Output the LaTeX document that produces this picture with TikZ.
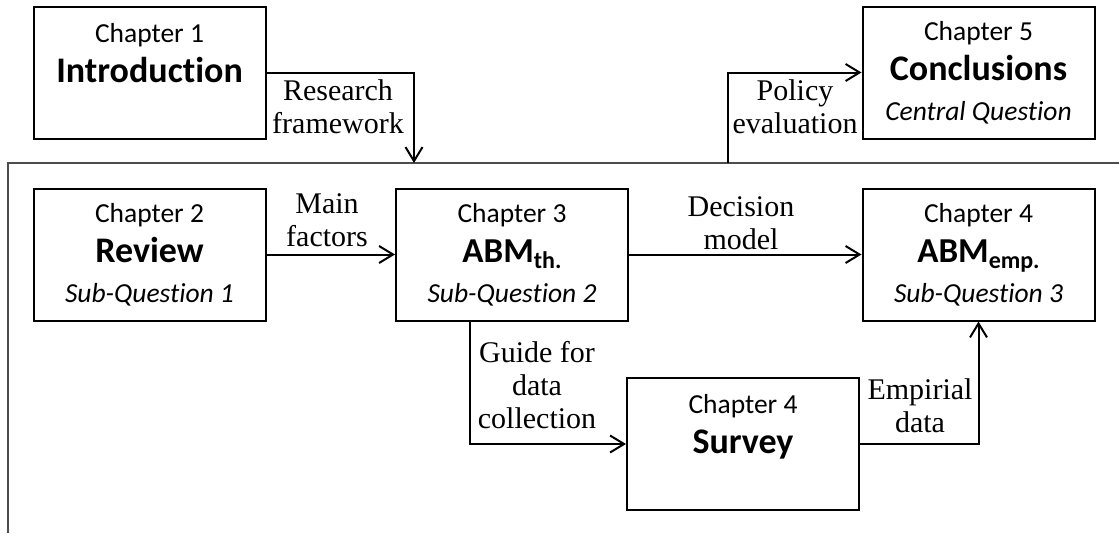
\documentclass[tikz,border=0pt]{standalone}
\usepackage{fontspec}
\setmainfont[Ligatures=NoCommon]{Carlito}
\newfontfamily\labelfont{Liberation Serif}
\usetikzlibrary{arrows.meta}
% text helpers for the chapter boxes
\newcommand\titleline[1]{{\bfseries\fontsize{36}{40}\selectfont #1}}
\newcommand\subqline[1]{{\itshape #1}}
\newcommand\abmline[1]{{\bfseries\fontsize{35}{40}\selectfont ABM\raisebox{-6pt}{\fontsize{24}{24}\selectfont #1}}}
\begin{document}
\begin{tikzpicture}[x=1pt,y=-1pt,
  box/.style={draw, line width=2pt, align=center, inner sep=0pt,
    minimum width=232pt, minimum height=132pt,
    font=\fontsize{27.5}{40}\selectfont},
  conn/.style={line width=2pt, -{Straight Barb[length=14pt,width=17pt,line width=2pt]}},
  frame/.style={line width=2pt, draw=black!70},
  lbl/.style={align=center, inner sep=0pt, font=\labelfont\fontsize{30}{33}\selectfont}]
\useasboundingbox (0,0) rectangle (1119,533);

% open frame around chapters 2 to 4
\draw[frame] (8,533) -- (8,163) -- (1119,163);
\coordinate (rf) at (414,163);
\coordinate (pe) at (728,163);

% chapter boxes
\node[box] (intro)  at (149.5,72.5) {Chapter 1\\ \titleline{Introduction}\\ \mbox{}};
\node[box] (concl)  at (978.5,72.5) {Chapter 5\\ \titleline{Conclusions}\\ \subqline{Central Question}};
\node[box] (review) at (149.5,254.5) {Chapter 2\\ \titleline{Review}\\ \subqline{Sub-Question 1}};
\node[box] (abmth)  at (512,254.5) {Chapter 3\\ \abmline{th.}\\ \subqline{Sub-Question 2}};
\node[box] (abmemp) at (978.5,254.5) {Chapter 4\\ \abmline{emp.}\\ \subqline{Sub-Question 3}};
\node[box] (survey) at (743,444) {Chapter 4\\ \titleline{Survey}\\ \mbox{}};

% connectors
\draw[conn] (intro.east) -| (rf);
\draw[conn] (pe) |- (concl.west);
\draw[conn] (review.east) -- (abmth.west);
\draw[conn] (abmth.east) -- (abmemp.west);
\draw[conn] ([xshift=-42pt]abmth.south) |- (survey.west);
\draw[conn] (survey.east) -| (abmemp.south);

% connector labels
\node[lbl] (lres) at (338,107) {Research\\framework};
\node[lbl] (lpol) at (795,107) {Policy\\evaluation};
\node[lbl] (lmain) at (327,220) {Main\\factors};
\node[lbl] (ldec) at (741,223) {Decision\\model};
\node[lbl] (lgui) at (537,385) {Guide for\\data\\collection};
\node[lbl] (lemp) at (920,406) {Empirial\\data};
\end{tikzpicture}
\end{document}
